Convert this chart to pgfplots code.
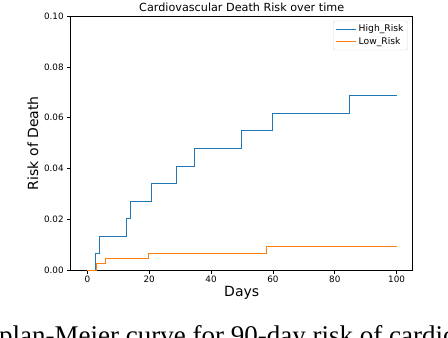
\documentclass[border=0pt]{standalone}
\usepackage{fontspec}
\setmainfont{DejaVu Sans}
\newfontfamily\capfont{Liberation Serif}
\usepackage{pgfplots}
\pgfplotsset{compat=1.18}
\definecolor{mplblue}{HTML}{1F77B4}
\definecolor{mplorange}{HTML}{FF7F0E}

\begin{document}
\begin{tikzpicture}
\path[use as bounding box, clip] (0,0) rectangle (448pt,338pt);
\fill[white] (0,0) rectangle (448pt,338pt);
\begin{axis}[
  at={(70.7pt,68pt)}, anchor=south west,
  scale only axis,
  width=342pt, height=253.7pt,
  xmin=-5.4, xmax=105.2,
  ymin=0, ymax=0.1,
  xtick={0,20,40,60,80,100},
  ytick={0,0.02,0.04,0.06,0.08,0.1},
  yticklabel style={/pgf/number format/.cd,fixed,fixed zerofill,precision=2},
  /pgf/number format/assume math mode=true,
  tick label style={font=\fontsize{8.8}{10}\selectfont, black},
  xticklabel style={yshift=1pt},
  tick align=outside,
  major tick length=3.5pt,
  xtick pos=bottom, ytick pos=left,
  axis line style={line width=0.8pt},
  every tick/.style={black, line width=0.8pt},
  xlabel={Days},
  ylabel={Risk of Death},
  label style={font=\fontsize{14}{16}\selectfont},
  xlabel style={yshift=3pt},
  ylabel style={yshift=-1pt},
  title={Cardiovascular Death Risk over time},
  title style={font=\fontsize{11.2}{13}\selectfont, yshift=-4.5pt},
  legend style={at={(1,1)}, anchor=north east, xshift=-5pt, yshift=-4.5pt,
    draw=black!15, rounded corners=1.5pt, font=\fontsize{9.2}{11}\selectfont,
    row sep=0pt, inner sep=2pt},
  legend cell align=left,
  legend image code/.code={\draw[#1, line width=1.2pt] (0pt,0pt) -- (20pt,0pt);},
]
\addplot[const plot, mplblue, line width=0.9pt] coordinates {
  (0,0) (2.7,0.0066) (3.9,0.0134) (12.6,0.0202) (13.8,0.0269) (20.8,0.0342)
  (28.8,0.0409) (34.6,0.0478) (49.8,0.0549) (59.9,0.0619) (84.9,0.0689) (100,0.0689)};
\addplot[const plot, mplorange, line width=0.9pt] coordinates {
  (0,0) (2.8,0.0024) (5.9,0.0045) (19.8,0.0066) (58,0.0091) (100,0.0091)};
\legend{High\_Risk, Low\_Risk}
\end{axis}
\node[anchor=base west, inner sep=0pt, font=\capfont\fontsize{27}{31}\selectfont]
  at (-1pt,-6pt) {\llap{Ka}plan-Meier curve for 90-day risk of cardiovascular death};
\end{tikzpicture}
\end{document}
